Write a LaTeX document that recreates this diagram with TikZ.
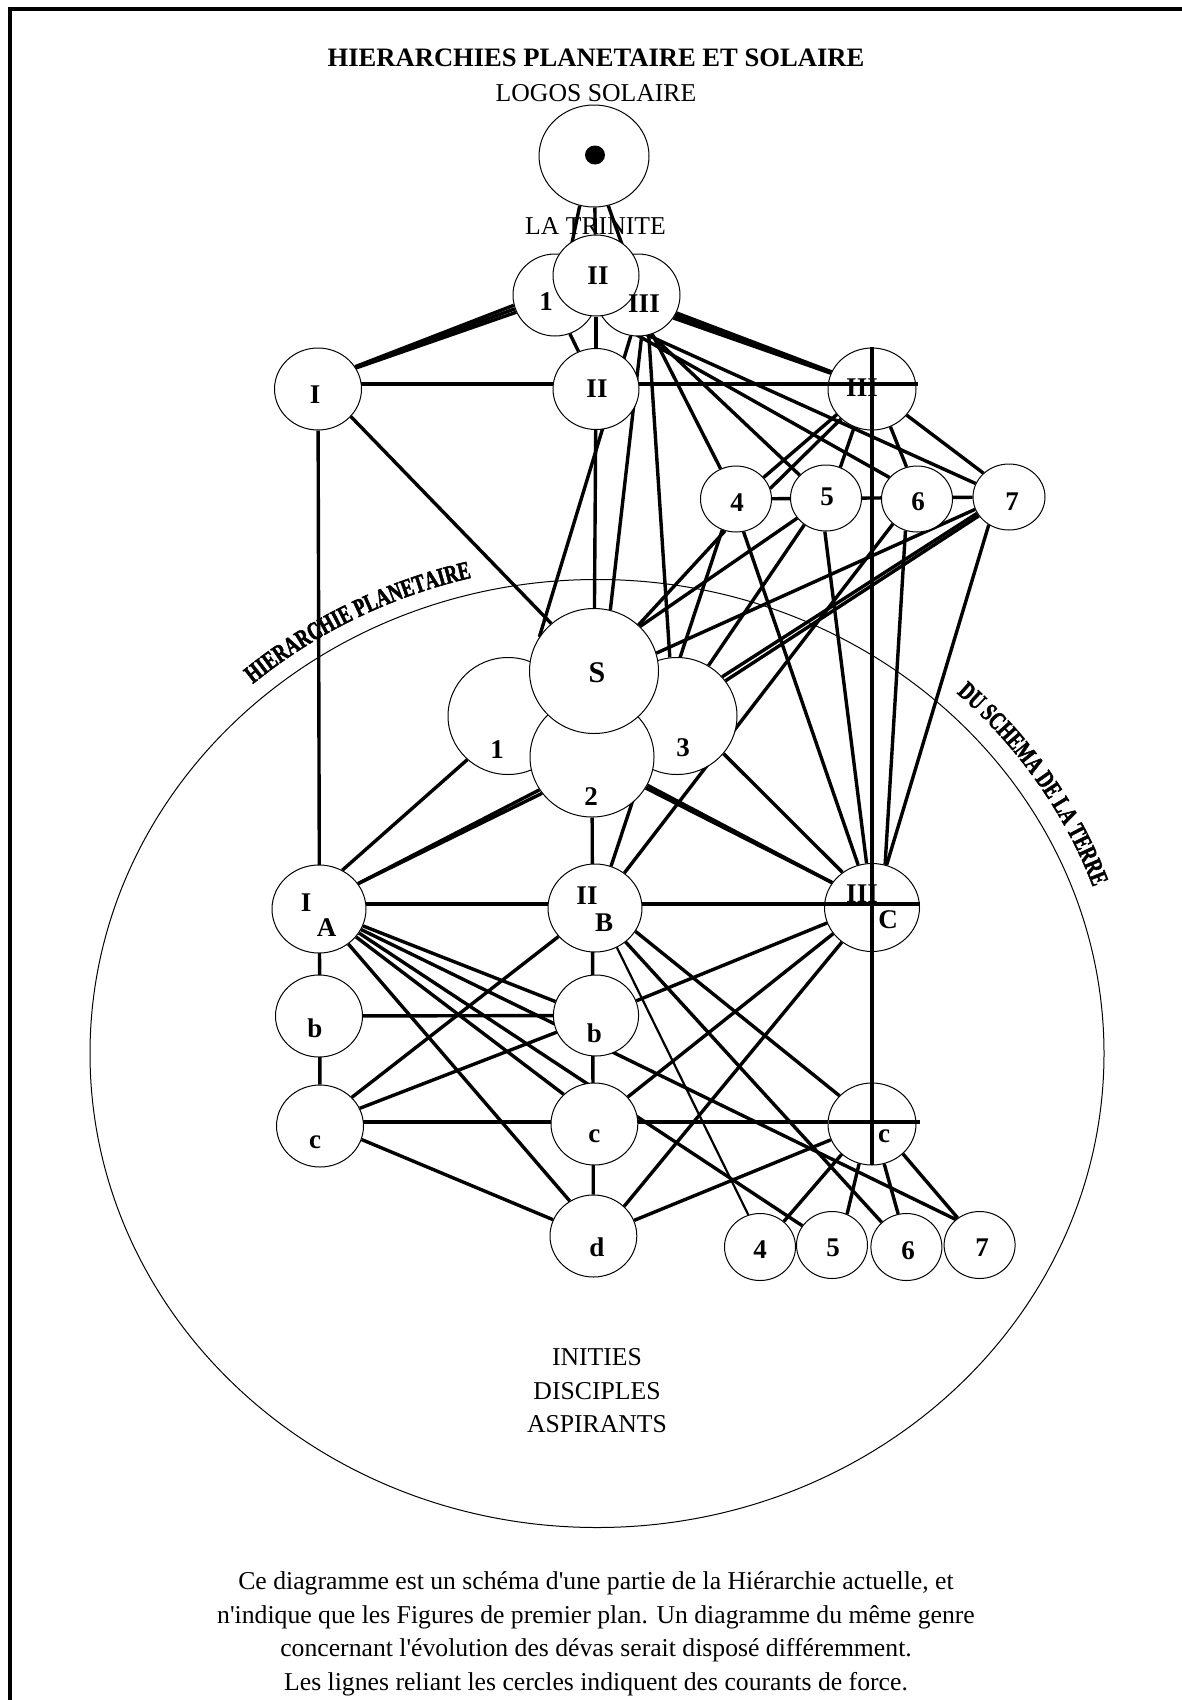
\documentclass[tikz,border=0pt]{standalone}
\usepackage{fontspec}
\setmainfont{Liberation Serif}
\newfontfamily\arcfont{Liberation Serif}[FakeStretch=0.72, BoldFeatures={FakeBold=2}]
\usetikzlibrary{shapes.geometric,decorations.text}
\pgfdeclarelayer{bg}
\pgfsetlayers{bg,main}
\begin{document}
\begin{tikzpicture}[x=1pt,y=-1pt,
  cn/.style 2 args={ellipse, draw, line width=1pt, fill=white, inner sep=0pt, minimum width={2*#1}, minimum height={2*#2}},
  lab/.style={font=\fontsize{27}{27}\selectfont\bfseries, inner sep=0pt},
  txt/.style={font=\fontsize{25.7}{30}\selectfont, inner sep=0pt},
  con/.style={line width=3.4pt},
  thin/.style={line width=2.2pt}]
\useasboundingbox (0,0) rectangle (1182,1700);
\begin{pgfonlayer}{bg}
\fill[white] (0,0) rectangle (1182,1700);
\end{pgfonlayer}
\draw[line width=4pt] (10,1700) -- (10,9) -- (1182,9);

% texts
\node[txt, font=\fontsize{26.6}{30}\selectfont\bfseries] (title) at (596,58) {HIERARCHIES PLANETAIRE ET SOLAIRE};
\node[txt] (logtxt) at (596,93) {LOGOS SOLAIRE};
\node[txt] (ini) at (597,1357) {INITIES};
\node[txt] (dis) at (597,1391) {DISCIPLES};
\node[txt] (asp) at (597,1424) {ASPIRANTS};
\node[txt, align=center, font=\fontsize{25.7}{33.6}\selectfont] (para) at (596,1634) {Ce diagramme est un sch\'ema d\textquotesingle une partie de la Hi\'erarchie actuelle, et\\
n\textquotesingle indique que les Figures de premier plan. Un diagramme du m\^eme genre\\
concernant l\textquotesingle\'evolution des d\'evas serait dispos\'e diff\'eremment.\\
Les lignes reliant les cercles indiquent des courants de force.};

% circles
\node[cn={55}{51}] (logos) at (594,156) {};
\node[ellipse, fill=black, inner sep=0pt, minimum width=20, minimum height=19] (dot) at (595,155) {};
\node[cn={42}{41}] (tI) at (555,295) {};
\node[cn={42}{41}] (tIII) at (638,295) {};
\node[cn={43}{40.5}] (tII) at (596,275.5) {};
\node[cn={43.5}{41}] (rI) at (318,389) {};
\node[cn={43}{40.5}] (rII) at (596,389) {};
\node[cn={44}{41}] (rIII) at (872,389) {};
\node[cn={35.5}{33}] (n4) at (736,499) {};
\node[cn={35.5}{33}] (n5) at (826,498) {};
\node[cn={35.5}{33}] (n6) at (917,499) {};
\node[cn={36}{33}] (n7) at (1009,497) {};
\node[cn={60}{58.5}] (m1) at (508,716) {};
\node[cn={60}{58.5}] (m3) at (677,716) {};
\node[cn={62}{60}] (m2) at (592,757) {};
\node[cn={64.5}{62.5}] (mS) at (594,671) {};
\node[cn={47}{44}] (A) at (319,909) {};
\node[cn={47}{44}] (B) at (595,908) {};
\node[cn={47.5}{44}] (C) at (872,907.5) {};
\node[cn={43.5}{41}] (lb) at (319,1016) {};
\node[cn={42.6}{40.5}] (mb) at (596,1015.5) {};
\node[cn={43.5}{41}] (lc) at (320,1126) {};
\node[cn={43.4}{41}] (mc) at (594.4,1124) {};
\node[cn={44}{41}] (rc) at (872,1124) {};
\node[cn={43.4}{41}] (d) at (593.4,1236) {};
\node[cn={35.5}{33.5}] (b4) at (760,1247) {};
\node[cn={35.5}{33.5}] (b5) at (832,1245) {};
\node[cn={35.5}{33.5}] (b6) at (906.4,1247) {};
\node[cn={35.5}{33.5}] (b7) at (979.6,1245) {};

\coordinate (IIIw) at (828,384);
\coordinate (IIIe) at (918,384);
\coordinate (Cw) at (825,904);
\coordinate (Ce) at (920,904);
\coordinate (rcw) at (829,1122);
\coordinate (rce) at (920,1122);
\coordinate (vtop) at (872,347);
\coordinate (vbot) at (872,1165);
\coordinate (bigc) at (597,1053.5);

\begin{pgfonlayer}{bg}
\node[ellipse, draw, line width=1pt, inner sep=0pt, minimum width=1014, minimum height=948] (big) at (bigc) {};
\node[txt] (trin) at (595.5,226) {LA TRINITE};
\path[decorate, decoration={text along path, text align=center,
  text={|\arcfont\bfseries\fontsize{25.5}{25.5}\selectfont|HIERARCHIE PLANETAIRE}}]
  plot[smooth, domain=158:78, samples=60] ({597+524*cos(\x)},{1053.5-490*sin(\x)});
\path[decorate, decoration={text along path, text align=center,
  text={|\arcfont\bfseries\fontsize{25.5}{25.5}\selectfont|DU SCHEMA DE LA TERRE}}]
  plot[smooth, domain=63:3, samples=60] ({597+527*cos(\x)},{1053.5-493*sin(\x)});

\begin{scope}[con]
% logos
\draw (logos.-106) -- (tI.70);
\draw (logos) -- (tII);
\draw (logos.-74) -- (tIII.107);
% trinity
\draw (tI.194) -- (rI.31);
\draw (tI.199) -- (rI.30);
\draw (tI.204) -- (rI.29);
\draw (tI.-69) -- (rII.115);
\draw (tII) -- (rII);
\draw (tIII.-25) -- (rIII.157);
\draw (tIII.-29) -- (rIII.158);
\draw (tIII.-33) -- (rIII.159);
\draw (tIII.-100) -- (mS.148);
\draw (tIII.-85) -- (mS.75);
\draw (tIII.-75) -- (m3.97);
\draw (tIII.-70) -- (n4.117);
\draw (tIII.-72) -- (n5.139);
\draw (tII.-80) -- (n6.142);
\draw (tII.-78) -- (n7.158);
% row 2
\draw (rI.center |- IIIe) -- (IIIe);
\draw (rI) -- (lc);
\draw (rI.-40) -- (mS.132);
\draw (rII) -- (mS);
\draw (rIII.-144) -- (n4.38);
\draw (rIII.-136) -- (n4.17);
\draw (rIII.-115) -- (n5.65);
\draw (rIII.-64) -- (n6.108);
\draw (rIII.-37) -- (n7.137);
\draw (n4) -- (n7);
% 4-7 downwards
\draw (n4.-109) -- (mS.46);
\draw (n4.-114) -- (B.69);
\draw (n4.-77) -- (C.108);
\draw (n5.-145) -- (mS.44);
\draw (n5.-129) -- (m3.58);
\draw (n5.-92) -- (C.97);
\draw (n6.-134) -- (B.50);
\draw (n6.-110) -- (C.73);
\draw (n7.-160) -- (mS.16);
\draw (n7.-153) -- (m3.41);
\draw (n7.-148) -- (m3.36);
\draw (n7.-126) -- (C.71);
% cluster downwards
\draw (m1.-133) -- (A.59);
\draw (m2.-144) -- (A.33);
\draw (m2.-148) -- (A.33);
\draw (m2) -- (d);
\draw (m2.-27) -- (C.148);
\draw (m2.-30) -- (C.148);
\draw (m3.-39) -- (C.130);
% lower rows
\draw (A.center |- Ce) -- (Ce);
\draw (A.-21) -- (mb.161);
\draw (A.-26) -- (b7.133);
\draw (A.-31) -- (b5.147);
\draw (A.-37) -- (mc.136);
\draw (A.-50) -- (d.124);
\draw (lb) -- (mb);
\draw (lc.24) -- (mb.203);
\draw (lc.center |- rce) -- (rce);
\draw (lc.-18) -- (d.158);
\draw (B.-142) -- (lc.42);
\draw (B.-30) -- (rc.139);
\draw (B.-48) -- (b6.135);
\draw[thin] (B.-61) -- (b4.110);
\draw (C.199) -- (mb.20);
\draw (C.-146) -- (mc.39);
\draw (C.-131) -- (d.44);
\draw (rc.-159) -- (d.21);
\draw (rc.-135) -- (b4.47);
\draw (rc.-108) -- (b5.64);
\draw (rc.-73) -- (b6.104);
\draw (rc.-44) -- (b7.129);
\end{scope}
\end{pgfonlayer}

% crosses on top
\draw[con] (IIIw) -- (IIIe);
\draw[con] (Cw) -- (Ce);
\draw[con] (rcw) -- (rce);
\draw[con] (vtop) -- (vbot);

% labels
\node[lab] (ltI) at (546,302) {1};
\node[lab] (ltII) at (598,276) {II};
\node[lab] (ltIII) at (644,304) {III};
\node[lab] (lrI) at (315,395) {I};
\node[lab] (lrII) at (597,389) {II};
\node[lab] (lrIII) at (862,388) {III};
\node[lab] (l4) at (737,503) {4};
\node[lab] (l5) at (827,497) {5};
\node[lab] (l6) at (918,502) {6};
\node[lab] (l7) at (1012,502) {7};
\node[lab, font=\fontsize{30}{30}\selectfont\bfseries] (lS) at (597,673) {S};
\node[lab] (l1) at (497,750) {1};
\node[lab] (l3) at (683,748) {3};
\node[lab] (l2) at (591,797) {2};
\node[lab] (lAI) at (306,903) {I};
\node[lab] (lA) at (326.5,928) {A};
\node[lab] (lBII) at (587,896) {II};
\node[lab] (lB) at (604,923) {B};
\node[lab] (lCIII) at (862,894) {III};
\node[lab] (lC) at (888,920) {C};
\node[lab] (llb) at (315,1028) {b};
\node[lab] (lmb) at (594.4,1033) {b};
\node[lab] (llc) at (315,1142) {c};
\node[lab] (lmc) at (594.4,1136) {c};
\node[lab] (lrc) at (884,1136) {c};
\node[lab] (ld) at (597,1247) {d};
\node[lab] (lb4) at (760,1250) {4};
\node[lab] (lb5) at (833,1248) {5};
\node[lab] (lb6) at (908,1251) {6};
\node[lab] (lb7) at (982,1248) {7};
\end{tikzpicture}
\end{document}
